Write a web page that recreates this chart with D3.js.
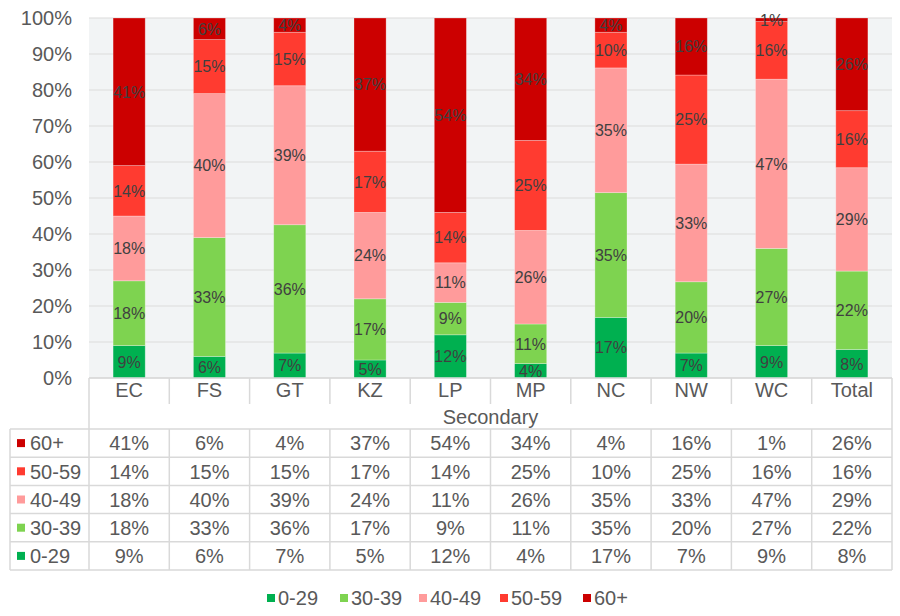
<!DOCTYPE html>
<html><head><meta charset="utf-8">
<script src="https://cdn.jsdelivr.net/npm/d3@7"></script>
<style>html,body{margin:0;padding:0;background:#fff;}svg{display:block;font-family:"Liberation Sans",Arial,sans-serif;}</style>
</head><body>
<svg id="chart" width="900" height="616"></svg>
<script>
const categories = ["EC","FS","GT","KZ","LP","MP","NC","NW","WC","Total"];
const groupLabel = "Secondary";
const seriesNames = ["0-29","30-39","40-49","50-59","60+"];
const s0_29  = [9,6,7,5,12,4,17,7,9,8];
const s30_39 = [18,33,36,17,9,11,35,20,27,22];
const s40_49 = [18,40,39,24,11,26,35,33,47,29];
const s50_59 = [14,15,15,17,14,25,10,25,16,16];
const s60    = [41,6,4,37,54,34,4,16,1,26];
const yTicks = [0,0.1,0.2,0.3,0.4,0.5,0.6,0.7,0.8,0.9,1];
const colors = ["#00B050","#7ED350","#FF9B9B","#FF3B30","#CC0000"];

const seriesValues = [s0_29, s30_39, s40_49, s50_59, s60];
const rows = categories.map((c,i)=>{const o={cat:c}; seriesNames.forEach((s,j)=>o[s]=seriesValues[j][i]); return o;});

const FS = 20, TXT = "#595959";
const svg = d3.select("#chart");
const L = 89, R = 892, T = 18, B = 378;
const x = d3.scaleBand().domain(categories).range([L,R]).paddingInner(0.6).paddingOuter(0.3);
const y = d3.scaleLinear().domain([0,1]).range([B,T]);
const color = d3.scaleOrdinal().domain(seriesNames).range(colors);
const stack = d3.stack().keys(seriesNames).offset(d3.stackOffsetExpand);
const stacked = stack(rows);

// plot background
svg.append("rect").attr("x",L).attr("y",T).attr("width",R-L).attr("height",B-T).attr("fill","#F2F4F5");
// gridlines
svg.append("g").selectAll("line").data(yTicks).join("line")
  .attr("x1",L).attr("x2",R).attr("y1",d=>y(d)).attr("y2",d=>y(d))
  .attr("stroke","#DCDCDC").attr("stroke-width",1.2);
// y axis labels
const yAxis = d3.axisLeft(y).tickValues(yTicks).tickFormat(d3.format(".0%")).tickSize(0).tickPadding(17);
const ya = svg.append("g").attr("transform",`translate(${L},0)`).call(yAxis);
ya.select(".domain").remove();
ya.selectAll("text").attr("font-size",FS).attr("fill",TXT).attr("font-family","Liberation Sans, Arial, sans-serif");

// bars
const g = svg.append("g");
stacked.forEach(layer=>{
  g.append("g").selectAll("rect").data(layer).join("rect")
    .attr("x",d=>x(d.data.cat)).attr("width",x.bandwidth())
    .attr("y",d=>y(d[1])).attr("height",d=>y(d[0])-y(d[1]))
    .attr("fill",color(layer.key)).attr("stroke","rgba(255,255,255,0.35)").attr("stroke-width",0.8);
});
// bar labels
stacked.forEach(layer=>{
  g.append("g").selectAll("text").data(layer).join("text")
    .attr("x",d=>x(d.data.cat)+x.bandwidth()/2)
    .attr("y",d=>y((d[0]+d[1])/2)).attr("dy","0.36em")
    .attr("text-anchor","middle").attr("font-size",16).attr("fill","#404040")
    .text(d=>d.data[layer.key]+"%");
});

// table / category axis
const lineC = "#D9D9D9";
const xb = d3.scaleBand().domain(categories).range([L,R]);
const tableTop = 429;
const rowOrder = seriesNames.slice().reverse();
const ry = d3.scaleBand().domain(rowOrder).range([tableTop,570]);
const lines = svg.append("g").attr("stroke",lineC).attr("stroke-width",1.5);
lines.append("line").attr("x1",L).attr("x2",R).attr("y1",B).attr("y2",B);
lines.selectAll(".sep").data(categories.slice(1)).join("line").attr("class","sep")
  .attr("x1",d=>xb(d)).attr("x2",d=>xb(d)).attr("y1",B).attr("y2",404);
lines.append("line").attr("x1",L).attr("x2",L).attr("y1",B).attr("y2",570);
lines.append("line").attr("x1",R).attr("x2",R).attr("y1",B).attr("y2",570);
lines.append("line").attr("x1",10).attr("x2",10).attr("y1",tableTop).attr("y2",570);
lines.selectAll(".csep").data(categories.slice(1)).join("line").attr("class","csep")
  .attr("x1",d=>xb(d)).attr("x2",d=>xb(d)).attr("y1",tableTop).attr("y2",570);
lines.selectAll(".rl").data(rowOrder).join("line").attr("class","rl")
  .attr("x1",10).attr("x2",R).attr("y1",d=>ry(d)).attr("y2",d=>ry(d));
lines.append("line").attr("x1",10).attr("x2",R).attr("y1",570).attr("y2",570);

// category labels
svg.append("g").selectAll("text").data(categories).join("text")
  .attr("x",d=>xb(d)+xb.bandwidth()/2).attr("y",390).attr("dy","0.36em")
  .attr("text-anchor","middle").attr("font-size",FS).attr("fill",TXT).text(d=>d);
svg.append("text").attr("x",(L+R)/2).attr("y",416.5).attr("dy","0.36em")
  .attr("text-anchor","middle").attr("font-size",FS).attr("fill",TXT).text(groupLabel);

// table rows
rowOrder.forEach(s=>{
  const cy = ry(s)+ry.bandwidth()/2;
  svg.append("rect").attr("x",17).attr("y",cy-4).attr("width",8).attr("height",8).attr("fill",color(s));
  svg.append("text").attr("x",30).attr("y",cy).attr("dy","0.36em").attr("font-size",FS).attr("fill",TXT).text(s);
  svg.append("g").selectAll("text").data(rows).join("text")
    .attr("x",d=>xb(d.cat)+xb.bandwidth()/2).attr("y",cy).attr("dy","0.36em")
    .attr("text-anchor","middle").attr("font-size",FS).attr("fill",TXT)
    .text(d=>d[s]+"%");
});

// legend
const legendX = [267,340,419,500,583];
const lg = svg.append("g");
seriesNames.forEach((s,i)=>{
  lg.append("rect").attr("x",legendX[i]).attr("y",594).attr("width",8).attr("height",8).attr("fill",color(s));
  lg.append("text").attr("x",legendX[i]+11).attr("y",598).attr("dy","0.36em").attr("font-size",FS).attr("fill",TXT).text(s);
});
</script>
</body></html>
